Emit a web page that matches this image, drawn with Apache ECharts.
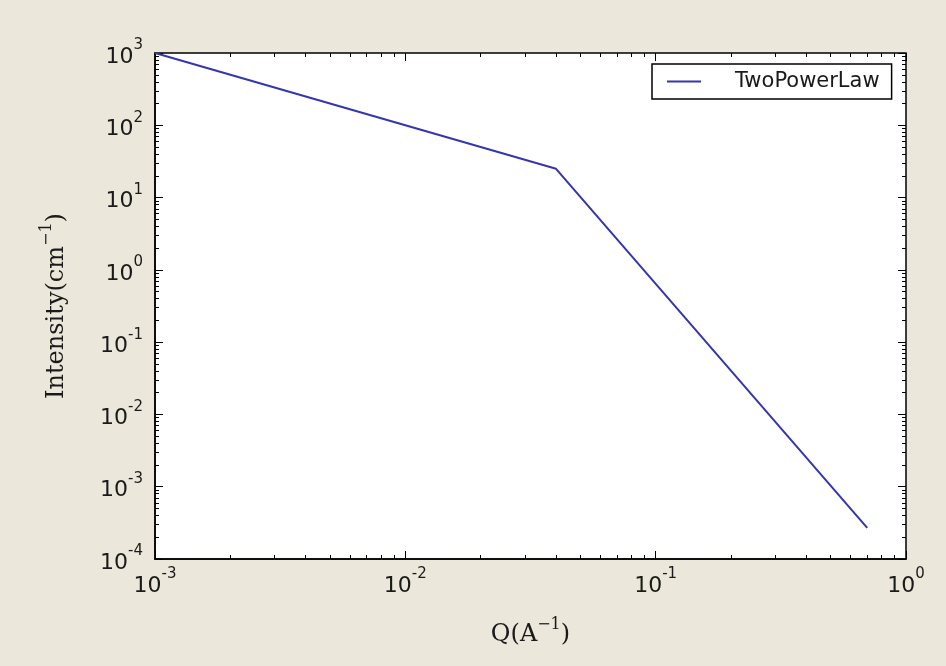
<!DOCTYPE html>
<html>
<head>
<meta charset="utf-8">
<script src="https://cdn.jsdelivr.net/npm/echarts@6/dist/echarts.min.js"></script>
<style>
  html, body { margin: 0; padding: 0; background: #ebe8db; }
  #my_chart { width: 946px; height: 666px; }
</style>
</head>
<body>
<div id="my_chart"></div>
<script>
// data
var qValues = [0.001, 0.04, 0.7];
var intensity = [1000, 25, 2.7e-4];
var seriesName = 'TwoPowerLaw';

// tick labels (decades)
var xMajor = [0.001, 0.01, 0.1, 1];
var yMajor = [1e-4, 1e-3, 1e-2, 1e-1, 1, 10, 100, 1000];
var minorSteps = [2, 3, 4, 5, 6, 7, 8, 9];

function minorOf(major) {
    var out = [];
    for (var i = 0; i < major.length - 1; i++) {
        for (var j = 0; j < minorSteps.length; j++) {
            out.push(major[i] * minorSteps[j]);
        }
    }
    return out;
}

function powLabel(v) {
    var e = Math.round(Math.log10(v));
    return '{b|10}{s|' + e + '}';
}

var labelRich = {
    b: { fontSize: 22, fontFamily: 'DejaVu Sans', color: '#1a1a1a', lineHeight: 30, verticalAlign: 'bottom' },
    s: { fontSize: 15, fontFamily: 'DejaVu Sans', color: '#1a1a1a', lineHeight: 30, verticalAlign: 'top' }
};

var nameRich = {
    n: { fontSize: 24, fontFamily: 'DejaVu Serif', color: '#1a1a1a', lineHeight: 30, verticalAlign: 'bottom' },
    sup: { fontSize: 16, fontFamily: 'DejaVu Serif', color: '#1a1a1a', lineHeight: 30, verticalAlign: 'top' }
};

function makeAxis(dir, pos, ticks, len, withLine, withLabel, extra) {
    var major = dir == 'x' ? xMajor : yMajor;
    var ax = {
        type: 'log',
        logBase: 10,
        gridIndex: 0,
        position: pos,
        min: major[0],
        max: major[major.length - 1],
        axisLine: { show: withLine, lineStyle: { color: '#000', width: 1.5 } },
        axisTick: { show: true, inside: true, length: len, customValues: ticks,
                    lineStyle: { color: '#000', width: 1 } },
        axisLabel: { show: withLabel, customValues: major, formatter: powLabel,
                     rich: labelRich, margin: dir == 'x' ? 8 : 12 },
        splitLine: { show: false },
        minorTick: { show: false }
    };
    if (extra) {
        for (var k in extra) ax[k] = extra[k];
    }
    return ax;
}

var myChart = echarts.init(document.getElementById('my_chart'));

var option = {
    backgroundColor: '#ebe8db',
    animation: false,
    grid: {
        left: 155, top: 53, right: 40, bottom: 107,
        show: true, backgroundColor: '#fff', borderColor: '#000', borderWidth: 1.5
    },
    legend: {
        show: true,
        data: [seriesName],
        left: 652, top: 64,
        backgroundColor: '#fff',
        borderColor: '#000', borderWidth: 1.5, borderRadius: 0,
        padding: [7, 12, 7, 15],
        icon: 'rect',
        itemWidth: 34, itemHeight: 2,
        textStyle: { fontSize: 21, fontFamily: 'DejaVu Sans', color: '#1a1a1a', padding: [0, 0, 0, 29] }
    },
    xAxis: [
        makeAxis('x', 'bottom', xMajor, 8, true, true, {
            name: '{n|Q(A}{sup|\u22121}{n|)}',
            nameLocation: 'middle', nameGap: 58,
            nameTextStyle: { rich: nameRich }
        }),
        makeAxis('x', 'bottom', minorOf(xMajor), 4, false, false),
        makeAxis('x', 'top', xMajor, 8, false, false),
        makeAxis('x', 'top', minorOf(xMajor), 4, false, false)
    ],
    yAxis: [
        makeAxis('y', 'left', yMajor, 8, true, true, {
            name: '{n|Intensity(cm}{sup|\u22121}{n|)}',
            nameLocation: 'middle', nameGap: 86, nameRotate: 90,
            nameTextStyle: { rich: nameRich }
        }),
        makeAxis('y', 'left', minorOf(yMajor), 4, false, false),
        makeAxis('y', 'right', yMajor, 8, false, false),
        makeAxis('y', 'right', minorOf(yMajor), 4, false, false)
    ],
    series: [{
        name: seriesName,
        type: 'line',
        xAxisIndex: 0,
        yAxisIndex: 0,
        symbol: 'none',
        data: qValues.map(function (q, i) { return [q, intensity[i]]; }),
        lineStyle: { color: '#3535ad', width: 2 },
        itemStyle: { color: '#3535ad' }
    }]
};

myChart.setOption(option);
</script>
</body>
</html>
